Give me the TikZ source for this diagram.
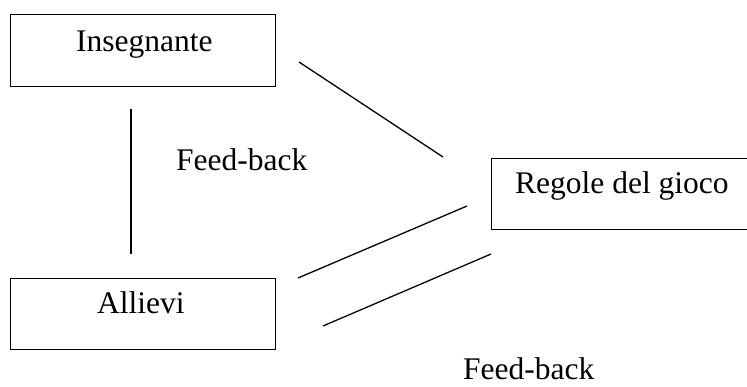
\documentclass[tikz,border=0pt]{standalone}
\usepackage{fontspec}
\setmainfont{Liberation Serif}
\begin{document}
\begin{tikzpicture}[x=1pt,y=-1pt,
  box/.style={draw, line width=1.4pt, anchor=north west, inner sep=0pt},
  lbl/.style={anchor=base west, inner sep=0pt, font=\fontsize{31.5}{36}\selectfont},
  link/.style={line width=1.3pt}]
  \useasboundingbox (0,0) rectangle (747,387);
  \clip (0,0) rectangle (747,387);

  % boxes
  \node[box, minimum width=265pt, minimum height=72pt] (ins) at (10,14) {};
  \node[box, minimum width=265pt, minimum height=71pt] (all) at (10,278) {};
  \node[box, minimum width=270pt, minimum height=71pt] (reg) at (491,158) {};

  % box labels
  \node[lbl] (tins) at (76,52) {Insegnante};
  \node[lbl] (tall) at (97,314) {Allievi};
  \node[lbl] (treg) at (515,194) {Regole del gioco};

  % free-standing labels
  \node[lbl] (fb1) at (176,171) {Feed-back};
  \node[lbl] (fb2) at (463,379) {Feed-back};

  % connector end points
  \coordinate (v1) at (131,109);
  \coordinate (v2) at (131,254);
  \coordinate (a1) at (299,62);
  \coordinate (a2) at (443,157);
  \coordinate (b1) at (298,278);
  \coordinate (b2) at (467,206);
  \coordinate (c1) at (323,326);
  \coordinate (c2) at (491,254);

  \draw[link] (v1) -- (v2);
  \draw[link] (a1) -- (a2);
  \draw[link] (b1) -- (b2);
  \draw[link] (c1) -- (c2);
\end{tikzpicture}
\end{document}
